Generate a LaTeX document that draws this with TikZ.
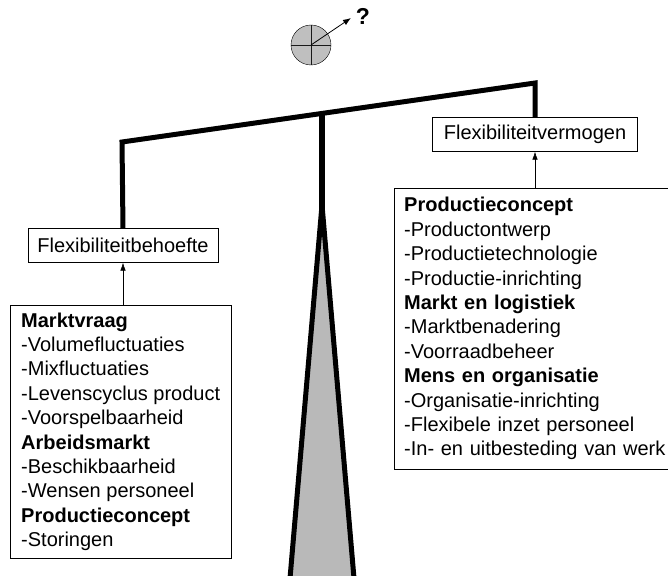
\documentclass[tikz,border=0pt]{standalone}
\usepackage{fontspec}
\setmainfont{Liberation Sans}
\usetikzlibrary{arrows.meta}

\begin{document}
\begin{tikzpicture}[x=1pt, y=1pt,
  labelbox/.style={draw, thin, minimum height=34, inner sep=0pt, font=\fontsize{20}{24}\selectfont},
  listbox/.style={draw, thin, anchor=north west, align=left, inner xsep=9pt, inner ysep=0pt, font=\fontsize{20}{24.4}\selectfont},
  beam/.style={line width=5pt, line join=miter},
  pin/.style={-{Latex[length=8pt, width=5.5pt]}, semithick}]
  \clip (0,0) rectangle (668,-575);
  % bol met vraagteken
  \node[circle, draw, fill=gray!50, minimum size=40, inner sep=0pt] (bol) at (311,-45) {};
  \draw[gray!20!black] (bol.north) -- (bol.south);
  \draw[gray!20!black] (bol.west) -- (bol.east);
  \node[font=\bfseries\fontsize{23}{23}\selectfont] (vraag) at (363,-16) {?};
  \coordinate (pijlpunt) at (351,-18);
  \draw[-{Latex[length=8pt, width=6pt]}, thick] (bol.center) -- (pijlpunt);
  % zuil
  \coordinate (midden) at (322,-113.6);
  \draw[line width=6pt] (midden) -- (322,-220);
  \draw[line width=5pt, fill=gray!55] (322,-205) -- (289,-590) -- (355,-590) -- cycle;
  % kaders
  \node[labelbox, minimum width=190] (behoefte) at (123,-245.5) {Flexibiliteitbehoefte};
  \node[labelbox, minimum width=205] (vermogen) at (535,-134.5) {Flexibiliteitvermogen};
  \node[listbox, minimum width=221, minimum height=253] (markt) at (10,-305)
  {\textbf{Marktvraag}\\-Volumefluctuaties\\-Mixfluctuaties\\-Levenscyclus product\\-Voorspelbaarheid\\
   \textbf{Arbeidsmarkt}\\-Beschikbaarheid\\-Wensen personeel\\\textbf{Productieconcept}\\-Storingen};
  \node[listbox, text width=272, minimum height=281, inner xsep=10pt] (middelen) at (394,-188)
  {\textbf{Productieconcept}\\-Productontwerp\\-Productietechnologie\\-Productie-inrichting\\
   \textbf{Markt en logistiek}\\-Marktbenadering\\-Voorraadbeheer\\\textbf{Mens en organisatie}\\
   -Organisatie-inrichting\\-Flexibele inzet personeel\\-In- en uitbesteding van werk};
  % balk
  \coordinate (links) at (122,-142);
  \coordinate (rechts) at (535,-83);
  \draw[beam] (behoefte.north) -- (links) -- (rechts) -- (vermogen.north);
  \path[pin]
  (markt.north -| behoefte.south) edge (behoefte.south)
  (middelen.north -| vermogen.south) edge (vermogen.south)
  ;
\end{tikzpicture}
\end{document}
